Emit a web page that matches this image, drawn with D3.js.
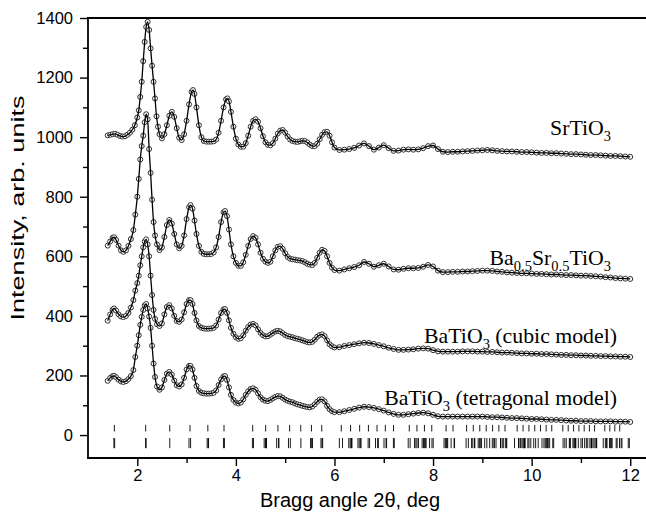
<!DOCTYPE html>
<html>
<head>
<meta charset="utf-8">
<script src="https://cdn.jsdelivr.net/npm/d3@7"></script>
<style>
  body { margin: 0; background: #fff; }
  svg { display: block; }
</style>
</head>
<body>
<svg id="chart" width="646" height="512"></svg>
<script>
// Powder diffraction patterns: [2θ (deg), intensity (arb. units)]
const srTiO3 = [
  [1.40,1006],[1.45,1008],[1.50,1010],[1.55,1011],[1.60,1008],[1.65,1004],[1.70,1002],[1.75,1003],[1.80,1008],[1.85,1015],
  [1.90,1025],[1.95,1040],[2.00,1066],[2.03,1090],[2.06,1135],[2.09,1186],[2.12,1255],[2.15,1320],[2.18,1370],[2.21,1387],
  [2.24,1360],[2.27,1298],[2.30,1240],[2.33,1186],[2.36,1130],[2.39,1070],[2.42,1035],[2.45,1010],[2.50,996],[2.55,1010],
  [2.60,1040],[2.65,1072],[2.70,1085],[2.75,1068],[2.80,1030],[2.85,998],[2.90,990],[2.95,1010],[3.00,1055],[3.05,1110],
  [3.10,1152],[3.13,1158],[3.16,1145],[3.20,1100],[3.25,1040],[3.30,1000],[3.35,987],[3.40,985],[3.45,985],[3.50,985],
  [3.55,986],[3.60,992],[3.65,1015],[3.70,1055],[3.75,1100],[3.80,1127],[3.83,1130],[3.86,1120],[3.90,1085],[3.95,1035],
  [4.00,995],[4.05,975],[4.10,968],[4.15,968],[4.20,980],[4.25,1005],[4.30,1035],[4.35,1055],[4.40,1060],[4.45,1052],
  [4.50,1030],[4.55,1003],[4.60,983],[4.65,974],[4.70,973],[4.75,980],[4.80,995],[4.85,1012],[4.90,1022],[4.95,1024],
  [5.00,1015],[5.05,1002],[5.10,992],[5.15,987],[5.20,985],[5.25,984],[5.30,986],[5.35,988],[5.40,987],[5.45,982],
  [5.50,975],[5.55,970],[5.60,970],[5.65,978],[5.70,993],[5.75,1008],[5.80,1017],[5.85,1018],[5.90,1005],[5.95,983],
  [6.00,965],[6.10,957],[6.20,958],[6.30,960],[6.40,964],[6.50,972],[6.60,979],[6.70,970],[6.80,958],[6.90,965],
  [7.00,973],[7.10,963],[7.20,954],[7.30,955],[7.40,958],[7.50,959],[7.60,958],[7.70,959],[7.80,963],[7.90,970],
  [8.00,972],[8.10,960],[8.20,951],[8.30,950],[8.40,951],[8.50,951],[8.60,952],[8.70,953],[8.80,954],[8.90,955],
  [9.00,956],[9.10,957],[9.20,956],[9.30,954],[9.40,953],[9.50,952],[9.60,952],[9.70,951],[9.80,950],[9.90,950],
  [10.00,949],[10.10,948],[10.20,947],[10.30,947],[10.40,946],[10.50,946],[10.60,945],[10.70,944],[10.80,943],[10.90,943],
  [11.00,942],[11.10,941],[11.20,940],[11.30,940],[11.40,939],[11.50,938],[11.60,937],[11.70,937],[11.80,936],[11.90,935],
  [12.00,934]
];

const ba05Sr05TiO3 = [
  [1.40,636],[1.45,650],[1.50,662],[1.53,664],[1.57,655],[1.62,636],[1.67,620],[1.72,615],[1.77,620],[1.82,635],
  [1.87,658],[1.92,688],[1.96,740],[2.00,800],[2.03,860],[2.06,925],[2.09,970],[2.12,1005],[2.15,1050],[2.18,1077],
  [2.21,1060],[2.24,960],[2.27,880],[2.30,790],[2.33,715],[2.36,670],[2.40,640],[2.45,621],[2.50,630],[2.55,665],
  [2.60,705],[2.65,722],[2.70,710],[2.75,675],[2.80,640],[2.85,627],[2.90,635],[2.95,670],[3.00,725],[3.05,765],
  [3.08,772],[3.12,760],[3.16,720],[3.20,675],[3.25,635],[3.30,615],[3.35,608],[3.40,607],[3.45,607],[3.50,608],
  [3.55,613],[3.60,630],[3.65,665],[3.70,715],[3.75,748],[3.78,752],[3.82,735],[3.86,690],[3.90,640],[3.95,600],
  [4.00,578],[4.05,568],[4.10,568],[4.15,580],[4.20,605],[4.25,635],[4.30,658],[4.35,668],[4.40,662],[4.45,640],
  [4.50,612],[4.55,592],[4.60,582],[4.65,578],[4.70,582],[4.75,600],[4.80,620],[4.85,632],[4.90,634],[4.95,625],
  [5.00,610],[5.05,598],[5.10,592],[5.15,590],[5.20,589],[5.25,587],[5.30,586],[5.35,584],[5.40,580],[5.45,575],
  [5.50,572],[5.55,571],[5.60,578],[5.65,595],[5.70,612],[5.75,622],[5.80,618],[5.85,600],[5.90,578],[5.95,562],
  [6.00,554],[6.10,552],[6.20,556],[6.30,560],[6.40,564],[6.50,570],[6.60,581],[6.70,575],[6.80,565],[6.90,570],
  [7.00,575],[7.10,566],[7.20,556],[7.30,555],[7.40,558],[7.50,560],[7.60,560],[7.70,561],[7.80,565],[7.90,571],
  [8.00,566],[8.10,552],[8.20,547],[8.30,547],[8.40,548],[8.50,548],[8.60,549],[8.70,549],[8.80,550],[8.90,551],
  [9.00,552],[9.10,552],[9.20,551],[9.30,549],[9.40,548],[9.50,546],[9.60,545],[9.70,544],[9.80,543],[9.90,543],
  [10.00,542],[10.10,541],[10.20,541],[10.30,540],[10.40,539],[10.50,539],[10.60,538],[10.70,537],[10.80,537],[10.90,536],
  [11.00,535],[11.10,535],[11.20,534],[11.30,533],[11.40,532],[11.50,530],[11.60,529],[11.70,527],[11.80,526],[11.90,525],
  [12.00,524]
];

const baTiO3Cubic = [
  [1.40,384],[1.45,405],[1.50,421],[1.53,425],[1.57,418],[1.62,405],[1.67,398],[1.72,396],[1.77,400],[1.82,410],
  [1.87,428],[1.92,453],[1.96,485],[2.00,510],[2.03,535],[2.06,570],[2.09,600],[2.12,630],[2.15,650],[2.18,657],
  [2.21,640],[2.24,600],[2.27,535],[2.30,470],[2.33,420],[2.36,390],[2.40,372],[2.45,366],[2.50,375],[2.55,405],
  [2.60,430],[2.65,436],[2.70,425],[2.75,400],[2.80,383],[2.85,380],[2.90,388],[2.95,412],[3.00,440],[3.05,453],
  [3.08,453],[3.12,440],[3.16,410],[3.20,385],[3.25,366],[3.30,360],[3.35,358],[3.40,357],[3.45,357],[3.50,358],
  [3.55,360],[3.60,368],[3.65,388],[3.70,410],[3.75,422],[3.78,423],[3.82,410],[3.86,385],[3.90,360],[3.95,340],
  [4.00,328],[4.05,323],[4.10,325],[4.15,335],[4.20,350],[4.25,363],[4.30,371],[4.35,373],[4.40,368],[4.45,355],
  [4.50,343],[4.55,335],[4.60,331],[4.65,332],[4.70,337],[4.75,343],[4.80,348],[4.85,350],[4.90,348],[4.95,342],
  [5.00,336],[5.05,332],[5.10,330],[5.15,328],[5.20,325],[5.25,323],[5.30,321],[5.35,318],[5.40,315],[5.45,312],
  [5.50,311],[5.55,313],[5.60,320],[5.65,330],[5.70,336],[5.75,338],[5.80,332],[5.85,318],[5.90,305],[5.95,298],
  [6.00,294],[6.10,295],[6.20,299],[6.30,302],[6.40,305],[6.50,308],[6.60,310],[6.70,309],[6.80,306],[6.90,302],
  [7.00,298],[7.10,293],[7.20,289],[7.30,286],[7.40,286],[7.50,287],[7.60,288],[7.70,290],[7.80,291],[7.90,290],
  [8.00,285],[8.10,281],[8.20,280],[8.30,280],[8.40,280],[8.50,280],[8.60,281],[8.70,281],[8.80,281],[8.90,280],
  [9.00,280],[9.10,279],[9.20,279],[9.30,278],[9.40,277],[9.50,277],[9.60,276],[9.70,275],[9.80,274],[9.90,274],
  [10.00,273],[10.10,273],[10.20,272],[10.30,272],[10.40,271],[10.50,270],[10.60,269],[10.70,269],[10.80,268],[10.90,268],
  [11.00,267],[11.10,267],[11.20,266],[11.30,266],[11.40,265],[11.50,265],[11.60,264],[11.70,264],[11.80,263],[11.90,263],
  [12.00,262]
];

const baTiO3Tetragonal = [
  [1.40,182],[1.45,192],[1.50,198],[1.53,199],[1.57,194],[1.62,186],[1.67,180],[1.72,178],[1.77,181],[1.82,188],
  [1.87,198],[1.92,218],[1.96,262],[2.00,300],[2.03,335],[2.06,370],[2.09,397],[2.12,420],[2.15,435],[2.18,440],
  [2.21,425],[2.24,398],[2.27,360],[2.30,300],[2.33,240],[2.36,195],[2.40,163],[2.45,152],[2.50,160],[2.55,185],
  [2.60,206],[2.65,212],[2.70,203],[2.75,183],[2.80,167],[2.85,163],[2.90,170],[2.95,192],[3.00,220],[3.05,232],
  [3.08,232],[3.12,220],[3.16,192],[3.20,165],[3.25,148],[3.30,142],[3.35,140],[3.40,139],[3.45,139],[3.50,140],
  [3.55,142],[3.60,150],[3.65,168],[3.70,187],[3.75,197],[3.78,198],[3.82,185],[3.86,160],[3.90,135],[3.95,118],
  [4.00,109],[4.05,106],[4.10,109],[4.15,120],[4.20,135],[4.25,147],[4.30,155],[4.35,157],[4.40,152],[4.45,140],
  [4.50,127],[4.55,119],[4.60,115],[4.65,114],[4.70,118],[4.75,123],[4.80,128],[4.85,131],[4.90,130],[4.95,125],
  [5.00,119],[5.05,115],[5.10,112],[5.15,110],[5.20,106],[5.25,103],[5.30,101],[5.35,98],[5.40,96],[5.45,94],
  [5.50,93],[5.55,96],[5.60,103],[5.65,112],[5.70,119],[5.75,120],[5.80,113],[5.85,98],[5.90,87],[5.95,80],
  [6.00,77],[6.10,77],[6.20,80],[6.30,84],[6.40,88],[6.50,92],[6.60,95],[6.70,94],[6.80,91],[6.90,87],
  [7.00,82],[7.10,76],[7.20,71],[7.30,68],[7.40,68],[7.50,70],[7.60,72],[7.70,74],[7.80,75],[7.90,73],
  [8.00,68],[8.10,63],[8.20,62],[8.30,62],[8.40,62],[8.50,62],[8.60,62],[8.70,62],[8.80,62],[8.90,62],
  [9.00,62],[9.10,61],[9.20,60],[9.30,60],[9.40,59],[9.50,58],[9.60,57],[9.70,57],[9.80,56],[9.90,55],
  [10.00,54],[10.10,54],[10.20,53],[10.30,52],[10.40,51],[10.50,51],[10.60,50],[10.70,49],[10.80,48],[10.90,48],
  [11.00,47],[11.10,47],[11.20,47],[11.30,46],[11.40,46],[11.50,46],[11.60,46],[11.70,45],[11.80,45],[11.90,45],
  [12.00,44]
];

// Bragg reflection positions (2θ, deg)
const cubicReflections = [
  1.535, 2.170, 2.658, 3.069, 3.431, 3.759, 4.341, 4.604, 4.853, 5.090, 5.316, 5.533, 5.742,
  6.138, 6.327, 6.511, 6.689, 6.863, 7.032, 7.198, 7.518, 7.673, 7.825, 7.974, 8.264, 8.405,
  8.681, 8.816, 8.948, 9.079, 9.208, 9.335, 9.460, 9.706, 9.826, 9.945, 10.063, 10.179, 10.294,
  10.408, 10.632, 10.742, 10.851, 10.959, 11.066, 11.172, 11.277, 11.484, 11.586, 11.687, 11.787
];

const tetragonalReflections = [
  1.525, 1.541, 2.168, 2.179, 2.659, 3.049, 3.081, 3.417, 3.438, 3.445, 3.748, 3.768,
  4.335, 4.358, 4.574, 4.601, 4.617, 4.622, 4.827, 4.867, 4.872, 5.067, 5.105, 5.319,
  5.515, 5.537, 5.555, 5.726, 5.748, 5.761, 6.099, 6.163, 6.290, 6.318, 6.337, 6.349, 6.353,
  6.476, 6.503, 6.533, 6.537, 6.683, 6.712, 6.833, 6.876, 6.890, 7.005, 7.047, 7.057,
  7.196, 7.213, 7.496, 7.535, 7.624, 7.652, 7.675, 7.704, 7.778, 7.806, 7.828, 7.853, 7.856,
  7.929, 7.978, 8.003, 8.223, 8.250, 8.270, 8.285, 8.297, 8.366, 8.427, 8.436, 8.670, 8.716,
  8.781, 8.806, 8.840, 8.848, 8.915, 8.940, 8.959, 8.984, 9.047, 9.091, 9.148, 9.202, 9.234, 9.244,
  9.277, 9.369, 9.372, 9.404, 9.433, 9.474, 9.487, 9.495, 9.653, 9.734, 9.744,
  9.775, 9.803, 9.826, 9.843, 9.855, 9.863, 9.865, 9.923, 9.946, 9.983, 10.042, 10.081,
  10.133, 10.210, 10.250, 10.276, 10.297, 10.314, 10.326, 10.335, 10.365, 10.429, 10.447,
  10.638, 10.673, 10.703, 10.765, 10.776, 10.785, 10.838, 10.858, 10.874, 10.892, 10.895,
  10.947, 11.001, 11.030, 11.075, 11.110, 11.138, 11.182, 11.208, 11.214, 11.217,
  11.244, 11.268, 11.302, 11.313, 11.320, 11.453, 11.496, 11.521, 11.528, 11.579, 11.598, 11.624,
  11.631, 11.715, 11.734, 11.783, 11.816, 11.832, 11.960, 11.982
];

// Axis ticks
const yMajorTicks = [0, 200, 400, 600, 800, 1000, 1200, 1400];
const yMinorTicks = [100, 300, 500, 700, 900, 1100, 1300];
const xMajorTicks = [2, 4, 6, 8, 10, 12];
const xMinorTicks = [3, 5, 7, 9, 11];

// Curve labels: [text, isSubscript]
const labelSrTiO3 = [["SrTiO", false], ["3", true]];
const labelBST = [["Ba", false], ["0.5", true], ["Sr", false], ["0.5", true], ["TiO", false], ["3", true]];
const labelCubic = [["BaTiO", false], ["3", true], [" (cubic model)", false]];
const labelTetragonal = [["BaTiO", false], ["3", true], [" (tetragonal model)", false]];

const svg = d3.select("#chart");
const plotLeft = 88, plotRight = 646, plotTop = 18, plotBottom = 458;

const x = d3.scaleLinear().domain([1.0, 12.32]).range([plotLeft, plotRight]);
const y = d3.scaleLinear().domain([-77, 1400]).range([plotBottom, plotTop]);

const sansFont = "'Liberation Sans', Arial, Helvetica, sans-serif";
const serifFont = "'Liberation Serif', 'Times New Roman', Times, serif";

// Patterns: observed points (open circles) with the calculated profile on top
const patterns = [srTiO3, ba05Sr05TiO3, baTiO3Cubic, baTiO3Tetragonal];
const line = d3.line().x(d => x(d[0])).y(d => y(d[1])).curve(d3.curveMonotoneX);

const plot = svg.append("g");
patterns.forEach(data => {
  const g = plot.append("g");
  g.selectAll("circle").data(data).join("circle")
    .attr("cx", d => x(d[0]))
    .attr("cy", d => y(d[1]))
    .attr("r", 2.5)
    .attr("fill", "#fff")
    .attr("stroke", "#2e2e2e")
    .attr("stroke-width", 1);
  g.append("path")
    .datum(data)
    .attr("d", line)
    .attr("fill", "none")
    .attr("stroke", "#000")
    .attr("stroke-width", 1.3);
});

// Reflection markers
function reflectionRow(positions, lo, hi) {
  plot.append("g").selectAll("line").data(positions).join("line")
    .attr("x1", d => x(d)).attr("x2", d => x(d))
    .attr("y1", y(lo)).attr("y2", y(hi))
    .attr("stroke", "#000").attr("stroke-width", 0.9);
}
reflectionRow(cubicReflections, 12, 34);
reflectionRow(tetragonalReflections, -44, -10);

// Axes
function styleAxis(g) {
  g.select(".domain").remove();
  g.selectAll(".tick line").attr("stroke", "#000").attr("stroke-width", 1.4);
  g.selectAll(".tick text").attr("fill", "#000")
    .style("font-family", sansFont).style("font-size", "16.5px");
}

svg.append("g").attr("transform", `translate(${plotLeft},0)`)
  .call(d3.axisLeft(y).tickValues(yMajorTicks).tickSize(8).tickSizeOuter(0).tickPadding(7).tickFormat(d3.format("d")))
  .call(styleAxis);
svg.append("g").attr("transform", `translate(${plotLeft},0)`)
  .call(d3.axisLeft(y).tickValues(yMinorTicks).tickSize(5).tickSizeOuter(0).tickFormat(""))
  .call(styleAxis);
svg.append("g").attr("transform", `translate(0,${plotBottom})`)
  .call(d3.axisBottom(x).tickValues(xMajorTicks).tickSize(8).tickSizeOuter(0).tickPadding(3).tickFormat(d3.format("d")))
  .call(styleAxis);
svg.append("g").attr("transform", `translate(0,${plotBottom})`)
  .call(d3.axisBottom(x).tickValues(xMinorTicks).tickSize(5).tickSizeOuter(0).tickFormat(""))
  .call(styleAxis);

// Frame
const frame = svg.append("g").attr("stroke", "#000").attr("stroke-width", 1.8).attr("fill", "none");
frame.append("line").attr("x1", plotLeft).attr("x2", plotLeft).attr("y1", plotTop).attr("y2", plotBottom);
frame.append("line").attr("x1", plotLeft - 1).attr("x2", plotRight).attr("y1", plotBottom).attr("y2", plotBottom);
frame.append("line").attr("x1", plotLeft - 1).attr("x2", plotRight).attr("y1", plotTop).attr("y2", plotTop);

// Axis titles
svg.append("text")
  .attr("transform", "translate(24,208) rotate(-90)")
  .attr("text-anchor", "middle")
  .attr("textLength", 225)
  .attr("lengthAdjust", "spacingAndGlyphs")
  .style("font-family", sansFont).style("font-size", "19px")
  .text("Intensity, arb. units");

svg.append("text")
  .attr("x", 350).attr("y", 507)
  .attr("text-anchor", "middle")
  .style("font-family", sansFont).style("font-size", "20px")
  .text("Bragg angle 2\u03B8, deg");

// Curve labels
function curveLabel(parts, xr, yb) {
  const t = svg.append("text")
    .attr("x", xr).attr("y", yb)
    .attr("text-anchor", "end")
    .style("font-family", serifFont).style("font-size", "21.8px");
  let shifted = false;
  parts.forEach(([s, sub]) => {
    const ts = t.append("tspan").text(s);
    if (sub) {
      ts.style("font-size", "14.5px");
      if (!shifted) { ts.attr("dy", 6); shifted = true; }
    } else if (shifted) {
      ts.attr("dy", -6); shifted = false;
    }
  });
}
curveLabel(labelSrTiO3, 611, 135);
curveLabel(labelBST, 611, 265);
curveLabel(labelCubic, 617, 343);
curveLabel(labelTetragonal, 617, 405);
</script>
</body>
</html>
